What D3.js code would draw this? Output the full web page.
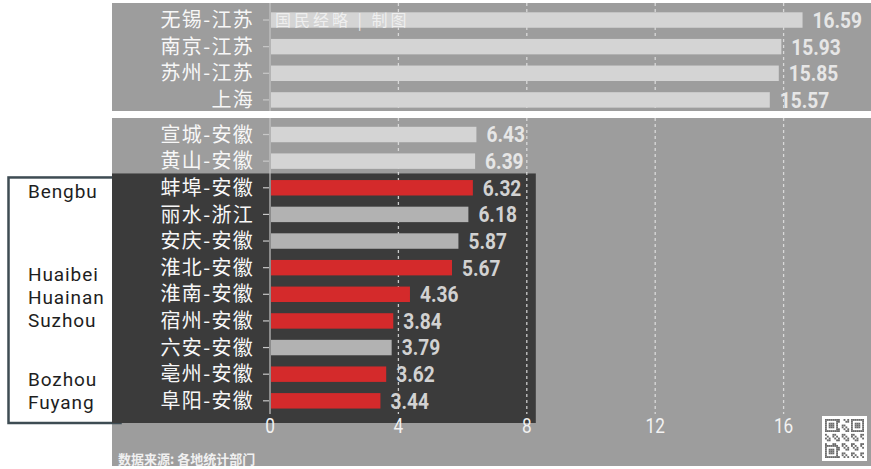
<!DOCTYPE html>
<html>
<head>
<meta charset="utf-8">
<script src="https://cdn.jsdelivr.net/npm/d3@7"></script>
<style>
  html, body { margin: 0; padding: 0; background: #ffffff; }
  #chart { width: 871px; height: 469px; }
</style>
</head>
<body>
<div id="chart"></div>
<script>
// cities above the axis break
const topCities = ['无锡-江苏', '南京-江苏', '苏州-江苏', '上海'];
const topValues = [16.59, 15.93, 15.85, 15.57];

// cities below the axis break
const bottomCities = ['宣城-安徽', '黄山-安徽', '蚌埠-安徽', '丽水-浙江', '安庆-安徽', '淮北-安徽',
    '淮南-安徽', '宿州-安徽', '六安-安徽', '亳州-安徽', '阜阳-安徽'];
const bottomValues = [6.43, 6.39, 6.32, 6.18, 5.87, 5.67, 4.36, 3.84, 3.79, 3.62, 3.44];

// red bars
const highlighted = ['蚌埠-安徽', '淮北-安徽', '淮南-安徽', '宿州-安徽', '亳州-安徽', '阜阳-安徽'];

// english notes in the side box, grouped with the rows they belong to
const noteGroups = [
    { names: ['Bengbu'], cities: ['蚌埠-安徽'] },
    { names: ['Huaibei', 'Huainan', 'Suzhou'], cities: ['淮北-安徽', '淮南-安徽', '宿州-安徽'] },
    { names: ['Bozhou', 'Fuyang'], cities: ['亳州-安徽', '阜阳-安徽'] }
];

const xTicks = [0, 4, 8, 12, 16];
const sourceText = '数据来源: 各地统计部门';
const watermark = '国民经略 | 制图';

const W = 871, H = 469;
const colors = {
    panel: '#9d9d9d',
    dark: '#3b3b3b',
    bar: '#d4d4d4',
    barDark: '#b2b2b2',
    red: '#d42a2b',
    label: '#f7f7f7',
    value: '#e6e6e6',
    valueDark: '#d2d2d2',
    grid: '#e4e4e4',
    boxStroke: '#3e4c53'
};
const narrow = 0.87; // squeeze for the condensed number font

const svg = d3.select('#chart').append('svg')
    .attr('width', W)
    .attr('height', H);

const panelLeft = 112;
const step = 26.63;

const x = d3.scaleLinear().domain([0, 16]).range([270, 270 + 16 * 32.1]);

const yTop = d3.scaleBand()
    .domain(topCities)
    .range([6.7, 6.7 + step * topCities.length])
    .paddingInner(0.42)
    .paddingOuter(0.21);

const yBottom = d3.scaleBand()
    .domain(bottomCities)
    .range([121.2, 121.2 + step * bottomCities.length])
    .paddingInner(0.42)
    .paddingOuter(0.21);

const topPanel = { y0: 3, y1: 111 };
const bottomPanel = { y0: 118, y1: 466 };

// background panels
svg.append('rect')
    .attr('x', panelLeft).attr('y', topPanel.y0)
    .attr('width', W - panelLeft).attr('height', topPanel.y1 - topPanel.y0)
    .attr('fill', colors.panel);
svg.append('rect')
    .attr('x', panelLeft).attr('y', bottomPanel.y0)
    .attr('width', W - panelLeft).attr('height', bottomPanel.y1 - bottomPanel.y0)
    .attr('fill', colors.panel);

// dark overlay starting at the first red row
const firstRed = bottomCities.indexOf(highlighted[0]);
const darkTop = yBottom(bottomCities[firstRed]) - (yBottom.step() - yBottom.bandwidth()) / 2 - 1;
const darkBottom = 423;
const darkRight = x(8) + 9;

// side box with english names
svg.append('rect')
    .attr('x', 8.5).attr('y', darkTop + 4)
    .attr('width', panelLeft).attr('height', darkBottom - darkTop - 4)
    .attr('fill', '#ffffff')
    .attr('stroke', colors.boxStroke)
    .attr('stroke-width', 2.5);

svg.append('rect')
    .attr('x', panelLeft).attr('y', darkTop)
    .attr('width', darkRight - panelLeft).attr('height', darkBottom - darkTop)
    .attr('fill', colors.dark);

// gridlines
const gridG = svg.append('g');
[topPanel, { y0: bottomPanel.y0, y1: 414 }].forEach(p => {
    gridG.selectAll(null)
        .data(xTicks.slice(1))
        .enter().append('line')
        .attr('x1', d => x(d)).attr('x2', d => x(d))
        .attr('y1', p.y0).attr('y2', p.y1)
        .attr('stroke', colors.grid)
        .attr('stroke-width', 1.3)
        .attr('stroke-dasharray', '3,3')
        .attr('opacity', 0.85);
});

// axis line
[[topPanel.y0, topPanel.y1], [bottomPanel.y0, 414]].forEach(([a, b]) => {
    svg.append('line')
        .attr('x1', x(0)).attr('x2', x(0))
        .attr('y1', a).attr('y2', b)
        .attr('stroke', '#c4c4c4').attr('stroke-width', 1.2);
});

function drawRows(cities, values, y) {
    const g = svg.append('g');
    const rows = cities.map((c, i) => ({ city: c, value: values[i] }));
    const inDark = d => y === yBottom && bottomCities.indexOf(d.city) >= firstRed;
    const cy = d => y(d.city) + y.bandwidth() / 2;

    g.selectAll('.tick-mark')
        .data(rows).enter().append('line')
        .attr('x1', x(0) - 7).attr('x2', x(0) - 1)
        .attr('y1', cy).attr('y2', cy)
        .attr('stroke', '#c8c8c8').attr('stroke-width', 1.2);

    g.selectAll('.bar')
        .data(rows).enter().append('rect')
        .attr('x', x(0) + 1)
        .attr('y', d => y(d.city))
        .attr('width', d => x(d.value) - x(0) - 1)
        .attr('height', y.bandwidth())
        .attr('fill', d => highlighted.includes(d.city) ? colors.red : (inDark(d) ? colors.barDark : colors.bar));

    g.selectAll('.city')
        .data(rows).enter().append('text')
        .attr('x', x(0) - 16)
        .attr('y', cy)
        .attr('dy', '0.36em')
        .attr('text-anchor', 'end')
        .attr('font-family', '"Noto Sans CJK SC", sans-serif')
        .attr('font-size', '20px')
        .attr('letter-spacing', '1.3px')
        .attr('fill', colors.label)
        .text(d => d.city);

    g.selectAll('.value')
        .data(rows).enter().append('text')
        .attr('transform', d => `translate(${x(d.value) + 10},${cy(d)}) scale(${narrow},1)`)
        .attr('dy', '0.36em')
        .attr('font-family', 'Roboto, sans-serif')
        .attr('font-weight', 'bold')
        .attr('font-size', '22px')
        .attr('fill', d => inDark(d) ? colors.valueDark : colors.value)
        .text(d => d3.format('.2f')(d.value));
}

drawRows(topCities, topValues, yTop);
drawRows(bottomCities, bottomValues, yBottom);

// x axis tick labels
svg.append('g')
    .selectAll('text')
    .data(xTicks).enter().append('text')
    .attr('transform', d => `translate(${x(d)},425) scale(0.82,1)`)
    .attr('dy', '0.36em')
    .attr('text-anchor', 'middle')
    .attr('font-family', 'Roboto, sans-serif')
    .attr('font-size', '21px')
    .attr('fill', '#f2f2f2')
    .text(d => d);

// english notes
const notes = svg.append('g');
noteGroups.forEach(grp => {
    const centers = grp.cities.map(c => yBottom(c) + yBottom.bandwidth() / 2);
    const mid = d3.mean(centers);
    const lh = 23;
    grp.names.forEach((n, i) => {
        notes.append('text')
            .attr('x', 28)
            .attr('y', mid + (i - (grp.names.length - 1) / 2) * lh + 10)
            .attr('font-family', 'Roboto, sans-serif')
            .attr('font-size', '19px')
            .attr('letter-spacing', '0.9px')
            .attr('fill', '#1e1e1e')
            .text(n);
    });
});

// top watermark
svg.append('text')
    .attr('x', 275)
    .attr('y', yTop(topCities[0]) + yTop.bandwidth() / 2)
    .attr('dy', '0.36em')
    .attr('font-family', '"Noto Sans CJK SC", sans-serif')
    .attr('font-size', '16px')
    .attr('letter-spacing', '3px')
    .attr('fill', '#f2f2f2')
    .attr('opacity', 0.9)
    .text(watermark);

// source note
svg.append('text')
    .attr('x', 118)
    .attr('y', 459)
    .attr('dy', '0.36em')
    .attr('font-family', '"Noto Sans CJK SC", sans-serif')
    .attr('font-size', '13px')
    .attr('font-weight', 'bold')
    .attr('fill', '#f0f0f0')
    .text(sourceText);

// qr code placeholder
const qr = svg.append('g').attr('transform', 'translate(822,416)');
const qs = 45, cells = 21, cs = (qs - 6) / cells;
qr.append('rect').attr('width', qs).attr('height', qs).attr('fill', '#ffffff');
const qrCells = [];
for (let r = 0; r < cells; r++) {
    for (let c = 0; c < cells; c++) {
        const finder = (r < 7 && c < 7) || (r < 7 && c >= cells - 7) || (r >= cells - 7 && c < 7);
        let on;
        if (finder) {
            const cc = c < 7 ? c : c - (cells - 7);
            const rr = r < 7 ? r : r - (cells - 7);
            on = (rr === 0 || rr === 6 || cc === 0 || cc === 6) || (rr >= 2 && rr <= 4 && cc >= 2 && cc <= 4);
        } else {
            on = ((r * 7 + c * 13 + r * c) % 5) < 2;
        }
        if (on) qrCells.push([r, c]);
    }
}
qr.selectAll('.m').data(qrCells).enter().append('rect')
    .attr('x', d => 3 + d[1] * cs).attr('y', d => 3 + d[0] * cs)
    .attr('width', cs).attr('height', cs)
    .attr('fill', '#6a6a6a');
</script>
</body>
</html>
